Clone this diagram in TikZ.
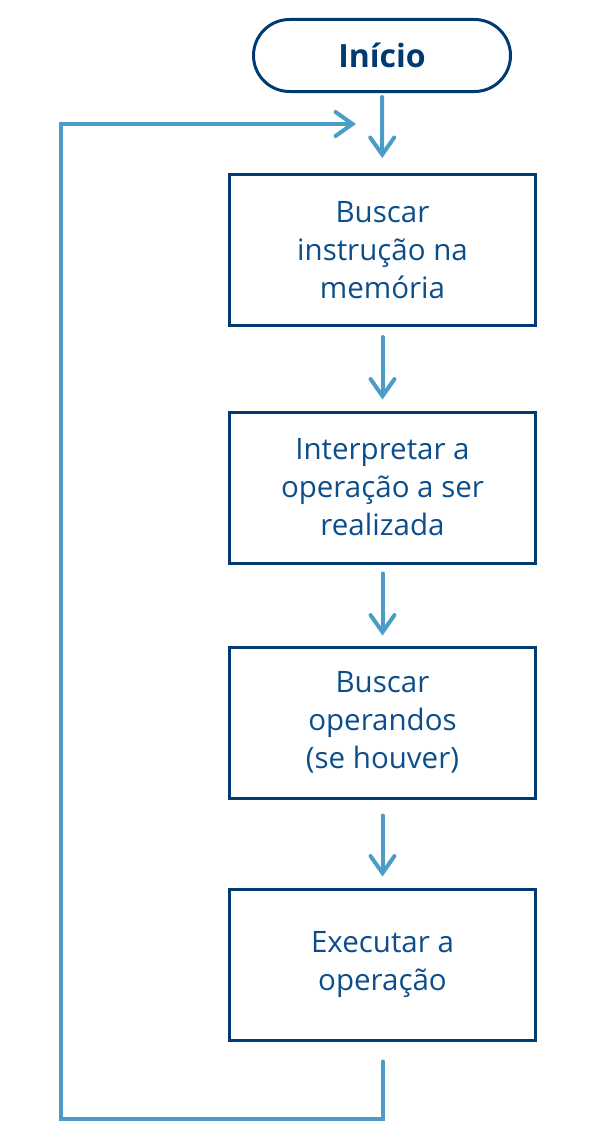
\documentclass[tikz,border=0pt]{standalone}
\usepackage{fontspec}
\setmainfont{Open Sans}
\usetikzlibrary{arrows.meta,shapes.misc}
\definecolor{boxblue}{RGB}{0,58,112}
\definecolor{txtblue}{RGB}{12,78,140}
\definecolor{arrblue}{RGB}{74,157,200}
\begin{document}
\begin{tikzpicture}[x=1pt,y=-1pt,
  stepbox/.style={draw=boxblue,line width=3pt,minimum width=306pt,minimum height=151pt,
    align=center,text=txtblue,font=\fontsize{29.5}{38}\selectfont,inner sep=0pt},
  term/.style={draw=boxblue,line width=3pt,rounded rectangle,minimum width=257pt,minimum height=72pt,
    text=boxblue,font=\fontsize{32}{38}\selectfont\bfseries,inner sep=0pt},
  arr/.style={draw=arrblue,line width=4pt,line cap=round,
    -{Straight Barb[length=17pt,width=24pt,line cap=round]}}]
\useasboundingbox (0,0) rectangle (603,1140);
\node[term] (start) at (382,55.5) {Início};
\node[stepbox] (b1) at (382.5,250) {Buscar\\instrução na\\memória};
\node[stepbox] (b2) at (382.5,487.5) {Interpretar a\\operação a ser\\realizada};
\node[stepbox] (b3) at (382.5,722.5) {Buscar\\operandos\\(se houver)};
\node[stepbox] (b4) at (382.5,964.5) {Executar a\\operação};
\coordinate (c2) at (61,1119);
\coordinate (c3) at (61,124);
\coordinate (c4) at (356,124);
\draw[arr,shorten <=4pt,shorten >=15pt] (start) -- (b1);
\draw[arr,shorten <=10pt,shorten >=11pt] (b1) -- (b2);
\draw[arr,shorten <=9pt,shorten >=10pt] (b2) -- (b3);
\draw[arr,shorten <=16pt,shorten >=11pt] (b3) -- (b4);
\draw[arr,shorten <=20pt,line join=miter] (b4.south) -- (b4.south |- c2) -- (c2) -- (c3) -- (c4);
\end{tikzpicture}
\end{document}
